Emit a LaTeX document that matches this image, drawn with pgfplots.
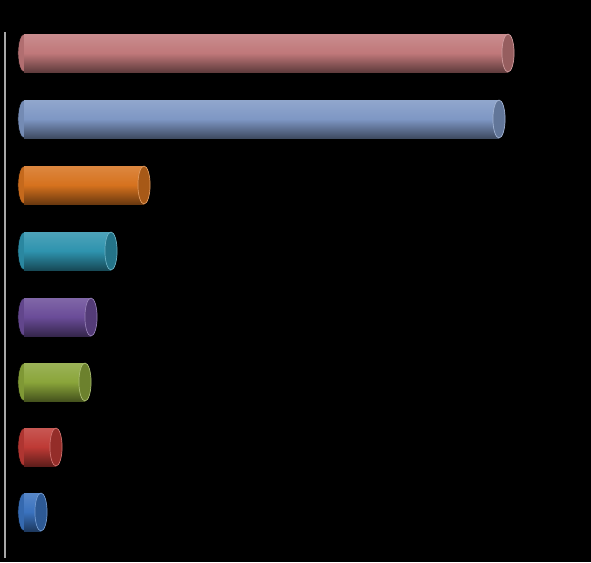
\documentclass[border=0pt]{standalone}
\usepackage{pgfplots}
\pgfplotsset{compat=1.18}

\definecolor{cPink}{HTML}{C0787A}
\definecolor{cSlate}{HTML}{7E97C4}
\definecolor{cOrange}{HTML}{D6721E}
\definecolor{cTeal}{HTML}{2E93AE}
\definecolor{cPurple}{HTML}{6A4C98}
\definecolor{cGreen}{HTML}{8AA53A}
\definecolor{cRed}{HTML}{BE3A35}
\definecolor{cBlue}{HTML}{3A72BE}
\definecolor{axisgray}{HTML}{A8A8A8}

% one cylinder: back cap, shaded body, front cap
\newcommand{\cyl}[3]{%
  \addplot[only marks, mark=*, mark size=14.25pt,
    mark options={xscale=0.32, fill=#1!92!black, draw=none}]
    coordinates {(0,#3)};
  \addplot[xbar, bar shift=0pt, bar width=28.5pt, draw=none,
    top color=#1!85!white, bottom color=#1!50!black, middle color=#1]
    coordinates {(#2,#3)};
  \addplot[only marks, mark=*, mark size=14.25pt,
    mark options={xscale=0.32, fill=#1!78!black, draw=#1!70!white, line width=0.5pt}]
    coordinates {(#2,#3)};
}

\begin{document}
\begin{tikzpicture}
\fill[black] (0,0) rectangle (443.25pt,421.5pt);
\begin{axis}[
    at={(3.75pt,3pt)}, anchor=south west,
    scale only axis,
    width=439.5pt, height=394.5pt,
    xmin=-19, xmax=567,
    ymin=0, ymax=526,
    axis x line=none,
    axis y line=left,
    y axis line style={-, axisgray, line width=1.8pt},
    xtick=\empty, ytick=\empty,
    clip mode=individual,
    clip=false,
]
\cyl{cPink}{484}{505}
\cyl{cSlate}{475}{439}
\cyl{cOrange}{120}{373}
\cyl{cTeal}{87}{307}
\cyl{cPurple}{67}{241}
\cyl{cGreen}{61}{176}
\cyl{cRed}{32}{111}
\cyl{cBlue}{17}{46}
\end{axis}
\end{tikzpicture}
\end{document}
